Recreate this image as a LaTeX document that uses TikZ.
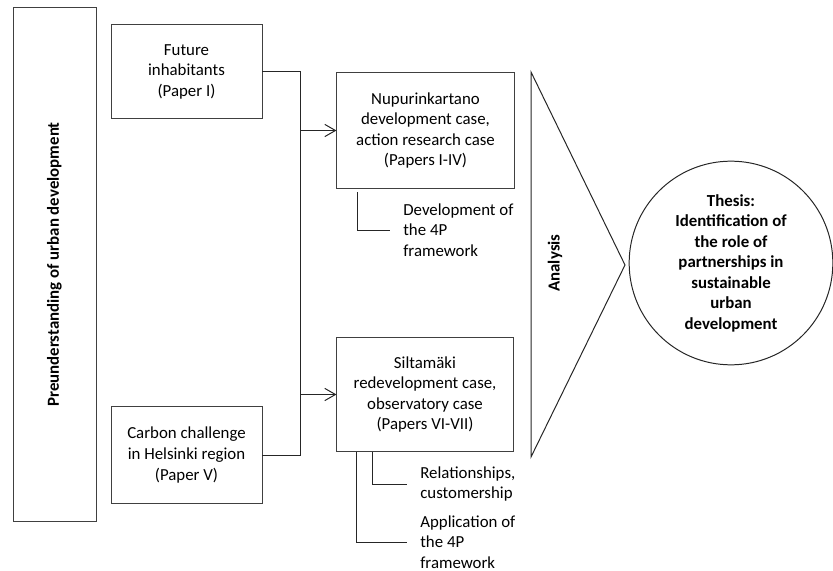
\documentclass[tikz,border=0pt]{standalone}
\usepackage{fontspec}
\setmainfont{Carlito}
\usepackage{tikz}
\usetikzlibrary{calc,arrows.meta,positioning}
\definecolor{edge}{rgb}{0.25,0.25,0.25}

\begin{document}
\begin{tikzpicture}[x=0.653pt,y=-0.653pt,
    font=\fontsize{11pt}{13.4pt}\selectfont,
    box/.style={draw=edge,line width=0.65pt,align=center,inner sep=0pt},
    note/.style={anchor=west,align=left,inner xsep=8.5pt,inner ysep=0pt},
    link/.style={draw=black!85,line width=0.65pt},
    arr/.style={link,-{Straight Barb[length=7pt,width=8pt]}}]
      \useasboundingbox (0,0) rectangle (833,571);
      \node[box,rotate=90,minimum width=336pt,minimum height=54.2pt] (pre) at (54.5,264.5) {\bfseries Preunderstanding of urban development};
      \node[box,minimum width=98.6pt,minimum height=62pt] (fut) at (186.5,71.5) {Future\\inhabitants\\(Paper I)};
      \node[box,minimum width=98.6pt,minimum height=62.7pt] (carb) at (186.5,455) {Carbon challenge\\in Helsinki region\\(Paper V)};
      \node[box,minimum width=115.6pt,minimum height=75.1pt] (nup) at (425.5,130.5) {Nupurinkartano\\development case,\\action research case\\(Papers I-IV)};
      \node[box,minimum width=115pt,minimum height=75pt] (silt) at (425,394.5) {Siltam\"aki\\redevelopment case,\\observatory case\\(Papers VI-VII)};
      \node[note] (dev) at (390,230) {Development of\\the 4P\\framework};
      \node[note] (rel) at (407,484) {Relationships,\\customership};
      \node[note] (app) at (407,542) {Application of\\the 4P\\framework};
      \node[rotate=90] (ana) at (555,263) {\bfseries Analysis};
      \node[circle,draw=black!85,line width=0.65pt,minimum size=133pt,inner sep=0pt,align=center] (thesis) at (731,263) {\bfseries Thesis:\\\bfseries Identification of\\\bfseries the role of\\\bfseries partnerships in\\\bfseries sustainable\\\bfseries urban\\\bfseries development};
      \coordinate (join) at (300,131);
      \coordinate (b1) at (357,192);
      \coordinate (b2) at (372,452);
      \coordinate (b3) at (356,452);
      \draw[link] (fut.east) -- (fut.east -| join) -- (carb.east -| join) -- (carb.east);
      \draw[arr] (join |- nup.west) -- (nup.west);
      \draw[arr] (join |- silt.west) -- (silt.west);
      \draw[link] (b1) |- (dev.west) (b2) |- (rel.west) (b3) |- (app.west);
      \draw[black!85,line width=0.65pt,line join=miter] (531,72) -- (625,265) -- (531,457) -- cycle;
    \end{tikzpicture}
\end{document}
